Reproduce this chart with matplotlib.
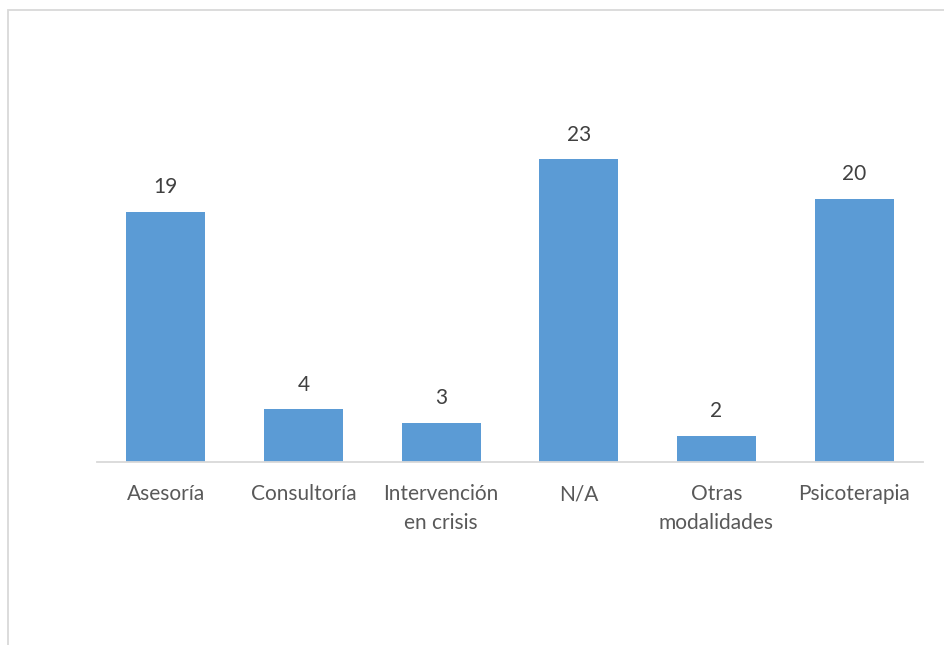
import matplotlib.pyplot as plt
from matplotlib.patches import Rectangle

categorias = ["Asesoría", "Consultoría", "Intervención\nen crisis", "N/A",
              "Otras\nmodalidades", "Psicoterapia"]
valores = [19, 4, 3, 23, 2, 20]

W, H = 945, 645
fig = plt.figure(figsize=(W / 100, H / 100), dpi=100)
plt.rcParams['font.family'] = ['Lato', 'DejaVu Sans']

# outer chart-area frame (only top and left edges fall inside the image)
fig.patches.append(Rectangle((8 / W, -0.1), 1.1, (H - 10) / H + 0.1,
                             transform=fig.transFigure, fill=False,
                             edgecolor='#d9d9d9', linewidth=1.3))

ax = fig.add_axes([97 / W, 1 - 462 / H, 826 / W, 329 / H])
x = range(len(categorias))
bars = ax.bar(x, valores, width=0.575, color='#5b9bd5')
ax.set_xlim(-0.5, len(categorias) - 0.5)
ax.set_ylim(0, 25)

for b, v in zip(bars, valores):
    ax.annotate(str(v), (b.get_x() + b.get_width() / 2, v),
                xytext=(0, 10.5), textcoords='offset points',
                ha='center', va='bottom', fontsize=15, color='#404040')

ax.set_xticks(list(x))
ax.set_xticklabels(categorias, fontsize=15, color='#595959', linespacing=1.55)
ax.tick_params(axis='x', length=0, pad=16)
ax.set_yticks([])
for s in ['top', 'right', 'left']:
    ax.spines[s].set_visible(False)
ax.spines['bottom'].set_color('#d9d9d9')
ax.spines['bottom'].set_linewidth(1.3)

fig.savefig('out.png', dpi=100)
